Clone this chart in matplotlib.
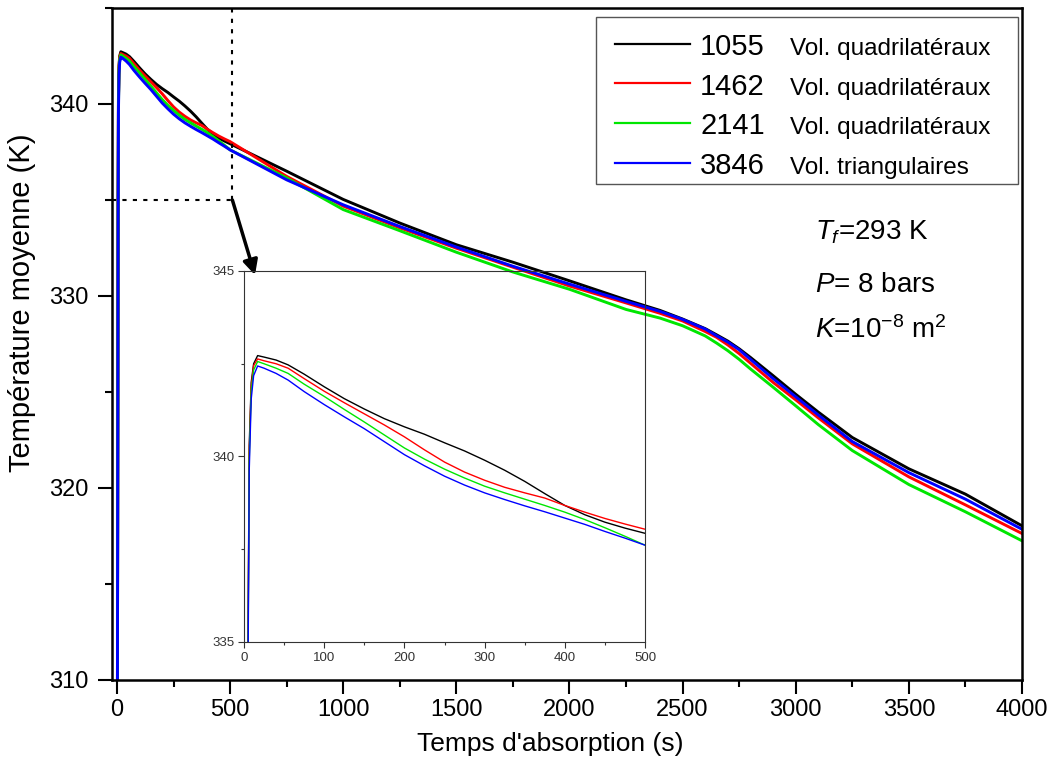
import numpy as np
import matplotlib
matplotlib.use("Agg")
import matplotlib.pyplot as plt
from matplotlib.patches import Rectangle
from matplotlib.ticker import MultipleLocator

plt.rcParams['font.family'] = ['Liberation Sans', 'DejaVu Sans']
plt.rcParams['mathtext.fontset'] = 'custom'
plt.rcParams['mathtext.rm'] = 'Liberation Sans'
plt.rcParams['mathtext.it'] = 'Liberation Sans:italic'

# temps (s)
t = [0, 5, 6.5, 9, 12, 17, 25, 40, 55, 75, 100, 125, 150, 175, 200, 225, 250,
     275, 300, 325, 350, 375, 400, 425, 450, 475, 500,
     750, 1000, 1250, 1500, 1750, 2000, 2250, 2400, 2500, 2600, 2650, 2700,
     2750, 2800, 2900, 3000, 3100, 3250, 3500, 3750, 4000]

# température moyenne (K) pour chaque maillage
T_1055 = [293, 335.0, 340.3, 342.0, 342.5, 342.72, 342.68, 342.60, 342.47, 342.22,
          341.88, 341.56, 341.28, 341.02, 340.80, 340.60, 340.37, 340.15, 339.90,
          339.63, 339.33, 339.00, 338.68, 338.43, 338.23, 338.07, 337.93,
          336.50, 335.03, 333.80, 332.67, 331.76, 330.79, 329.80, 329.25, 328.80,
          328.30, 327.98, 327.65, 327.25, 326.80, 325.85, 324.88, 323.95, 322.63,
          321.00, 319.68, 318.03]
T_1462 = [293, 334.6, 340.1, 341.9, 342.45, 342.63, 342.58, 342.50, 342.38, 342.10,
          341.76, 341.45, 341.15, 340.85, 340.53, 340.18, 339.85, 339.58, 339.36,
          339.17, 339.02, 338.88, 338.68, 338.50, 338.33, 338.18, 338.04,
          336.23, 334.68, 333.55, 332.49, 331.50, 330.52, 329.64, 329.10, 328.70,
          328.15, 327.85, 327.45, 327.00, 326.50, 325.50, 324.59, 323.65, 322.30,
          320.58, 319.12, 317.63]
T_2141 = [293, 334.4, 339.9, 341.75, 342.33, 342.56, 342.50, 342.38, 342.24, 341.95,
          341.62, 341.27, 340.93, 340.58, 340.23, 339.93, 339.66, 339.42, 339.20,
          339.02, 338.85, 338.68, 338.50, 338.30, 338.08, 337.85, 337.61,
          336.15, 334.50, 333.40, 332.28, 331.25, 330.35, 329.30, 328.85, 328.45,
          327.92, 327.55, 327.15, 326.70, 326.20, 325.25, 324.28, 323.30, 321.95,
          320.18, 318.76, 317.25]
T_3846 = [293, 334.0, 339.6, 341.55, 342.18, 342.44, 342.38, 342.24, 342.06, 341.75,
          341.40, 341.07, 340.75, 340.40, 340.05, 339.75, 339.47, 339.23, 339.02,
          338.84, 338.67, 338.51, 338.34, 338.17, 337.98, 337.80, 337.61,
          336.05, 334.75, 333.62, 332.55, 331.55, 330.62, 329.72, 329.20, 328.78,
          328.28, 327.93, 327.60, 327.20, 326.70, 325.70, 324.75, 323.80, 322.42,
          320.80, 319.42, 317.85]

series = [T_1055, T_1462, T_2141, T_3846]
couleurs = ['#000000', '#ff0000', '#00e600', '#0000ff']
nb_vol = ['1055', '1462', '2141', '3846']
type_vol = ['Vol. quadrilatéraux', 'Vol. quadrilatéraux',
            'Vol. quadrilatéraux', 'Vol. triangulaires']

W, H = 1058, 764
fig = plt.figure(figsize=(W / 100, H / 100), dpi=100)

# axe principal (positions en pixels de l'image de reference)
L, R, B, TOP = 112, 1022, 680, 8
ax = fig.add_axes([L / W, 1 - B / H, (R - L) / W, (B - TOP) / H])

for y, c in zip(series, couleurs):
    ax.plot(t, y, color=c, lw=2.1)

ax.set_xlim(-22, 4000)
ax.set_ylim(310, 345)
ax.xaxis.set_major_locator(MultipleLocator(500))
ax.xaxis.set_minor_locator(MultipleLocator(250))
ax.yaxis.set_major_locator(MultipleLocator(10))
ax.yaxis.set_minor_locator(MultipleLocator(5))
ax.tick_params(which='both', direction='out', top=False, right=False, width=1.5)
ax.tick_params(which='major', length=10, labelsize=17)
ax.tick_params(which='minor', length=5)
ax.tick_params(axis='y', which='major', pad=7)
ax.tick_params(axis='x', which='major', pad=4)
for s in ax.spines.values():
    s.set_linewidth(1.8)

fig.text(550 / W, 1 - 744 / H, "Temps d'absorption (s)", fontsize=19,
         ha='center', va='center')
fig.text(22 / W, 1 - 303 / H, "Température moyenne (K)", fontsize=21,
         rotation=90, ha='center', va='center')

# zone agrandie (pointilles + fleche)
x_zoom = 510
ax.plot([-22, x_zoom], [335, 335], color='k', ls=(0, (2, 3)), lw=1.5)
ax.plot([x_zoom, x_zoom], [335, 345], color='k', ls=(0, (2, 3)), lw=1.5)
ax.annotate('', xy=(255 / W, 1 - 275 / H), xycoords='figure fraction',
            xytext=(x_zoom, 335), textcoords='data',
            arrowprops=dict(arrowstyle='-|>', color='k', lw=2.5,
                            mutation_scale=22, shrinkA=0, shrinkB=0))


def axf(px, py):
    return (px - L) / (R - L), (B - py) / (B - TOP)


# legende
x0, y0 = axf(596, 184)
x1, y1 = axf(1018, 17)
ax.add_patch(Rectangle((x0, y0), x1 - x0, y1 - y0, transform=ax.transAxes,
                       facecolor='white', edgecolor='#555555', lw=1.0, zorder=5))
ligne_y = [43.5, 83, 123, 163]
base_y = [55, 95, 134, 174]
for i in range(4):
    lx0, ly = axf(615, ligne_y[i])
    lx1, _ = axf(690, ligne_y[i])
    ax.plot([lx0, lx1], [ly, ly], transform=ax.transAxes, color=couleurs[i],
            lw=1.6, zorder=6)
    nx, by = axf(700, base_y[i])
    ax.text(nx, by, nb_vol[i], transform=ax.transAxes, fontsize=21,
            va='baseline', zorder=6)
    vx, _ = axf(790, base_y[i])
    ax.text(vx, by, type_vol[i], transform=ax.transAxes, fontsize=17.5,
            va='baseline', zorder=6)

# conditions
textes = [r"$T_f$=293 K", r"$P$= 8 bars", r"$K$=10$^{-8}$ m$^2$"]
for txt, py in zip(textes, [240, 292, 338]):
    tx, ty = axf(815, py)
    ax.text(tx, ty, txt, transform=ax.transAxes, fontsize=20, va='baseline')

# encart 0-500 s (fond transparent)
iL, iR, iB, iT = 244, 645, 642, 271
ax_in = fig.add_axes([iL / W, 1 - iB / H, (iR - iL) / W, (iB - iT) / H])
ax_in.patch.set_alpha(0)
for y, c in zip(series, couleurs):
    ax_in.plot(t, y, color=c, lw=1.0)
ax_in.set_xlim(0, 500)
ax_in.set_ylim(335, 345)
ax_in.xaxis.set_major_locator(MultipleLocator(100))
ax_in.xaxis.set_minor_locator(MultipleLocator(50))
ax_in.yaxis.set_major_locator(MultipleLocator(5))
ax_in.yaxis.set_minor_locator(MultipleLocator(2.5))
ax_in.tick_params(which='both', direction='out', top=False, right=False,
                  width=0.8, color='#333333')
ax_in.tick_params(which='major', length=4, labelsize=9.5, labelcolor='#333333', pad=3)
ax_in.tick_params(which='minor', length=2.5)
for s in ax_in.spines.values():
    s.set_linewidth(0.8)
    s.set_color('#333333')

fig.savefig('out.png', dpi=100)
